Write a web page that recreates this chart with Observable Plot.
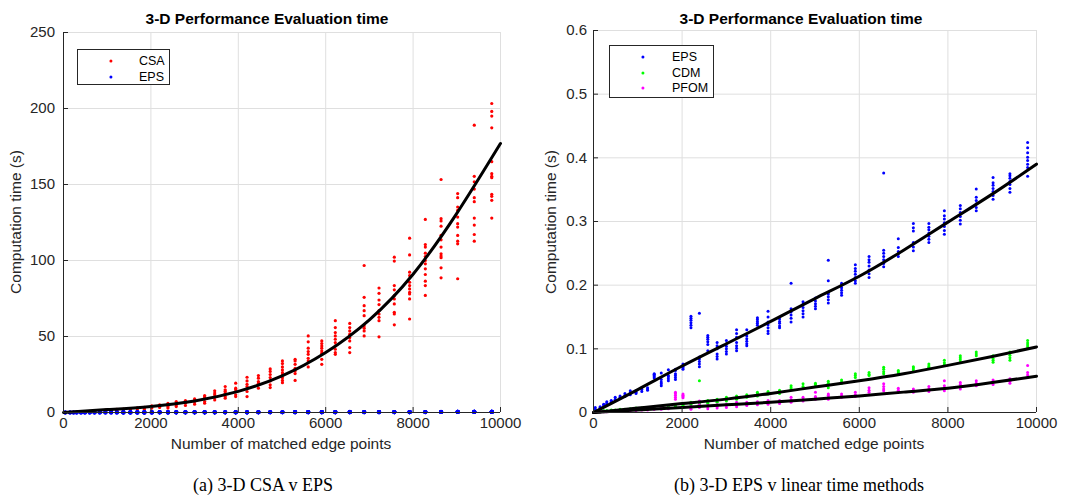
<!DOCTYPE html>
<html><head><meta charset="utf-8">
<script src="https://cdn.jsdelivr.net/npm/d3@7"></script>
<script src="https://cdn.jsdelivr.net/npm/@observablehq/plot@0.6"></script>
<style>
body{margin:0;background:#fff;width:1075px;height:495px;overflow:hidden;font-family:"Liberation Sans",Arial,sans-serif;}
#wrap{display:flex;}
.panel{position:relative;height:495px;}
.title{position:absolute;top:10px;font-weight:bold;font-size:15.5px;line-height:18px;text-align:center;color:#000;white-space:nowrap;}
.caption{position:absolute;top:474px;font-family:"Liberation Serif","Times New Roman",serif;font-size:18px;line-height:22px;text-align:center;color:#000;white-space:nowrap;}
.alab{position:absolute;font-size:15.5px;line-height:18px;color:#262626;white-space:nowrap;transform:translate(-50%,-50%);}
.ylab{transform:translate(-50%,-50%) rotate(-90deg);}
.legend{position:absolute;background:#fff;border:1.3px solid #262626;font-size:12.5px;color:#000;box-sizing:border-box;}
.legend .dot{position:absolute;width:3.2px;height:3.2px;border-radius:50%;transform:translate(-50%,-50%);}
.legend .lab{position:absolute;line-height:14px;transform:translateY(-50%);}
svg{display:block;}
</style></head><body>
<div id="wrap"><div class="panel" id="pa" style="width:537px"></div><div class="panel" id="pb" style="width:538px"></div></div>
<script>
// ---- data ----
const xs = [40,150,230,300,400,490,600,710,830,960,1090,1220,1370,1530,1690,1850,2020,2200,2390,2580,2790,3000,3230,3460,3700,3940,4200,4460,4730,5010,5300,5600,5910,6220,6550,6880,7220,7570,7920,8280,8640,9020,9400,9800];

const csaTimes = [
 [0.0,0.0],[0.1,0.1],[0.1,0.2],[0.2,0.3],[0.3,0.4],[0.4,0.6],[0.5,0.8],[0.7,1.0],[0.9,1.2],[1.1,1.5],
 [1.3,1.7],[1.5,2.0],[1.7,2.3],[2.0,2.6],[2.3,3.0],[2.0,2.9,3.4],[2.9,3.9,4.3],[3.3,4.6,5.0],[2.9,3.9,5.5,6.0],[3.9,5.0,6.2,7.2],
 [4.6,6.1,7.0,7.9],[5.5,7.2,8.2,9.0],[6.1,7.2,9.4,10.4,11.2],[8.3,9.9,11.6,12.8,14.3],[9.4,10.5,12.7,14.0,14.9,17.1],
 [10.5,11.6,13.8,15.2,16.0,19.3],[10.5,13.8,17.1,18.6,20.8,23.2],[16.0,18.2,19.3,20.4,22.6,24.3],
 [16.4,18.2,20.8,23.0,25.0,27.0,28.7],[19.6,21.1,22.9,24.7,26.2,28.0,30.0,32.2,33.9],[21.1,25.6,27.3,29.1,31.7,33.9,35.0],
 [30.0,33.9,35.7,38.3,40.1,42.3,46.5,50.4],[31.7,35.0,39.0,40.5,42.3,43.8,45.4,47.1],
 [38.3,39.4,41.6,43.8,46.0,48.2,50.4,52.6,55.9,60.4],[39.4,42.7,47.1,49.3,51.5,53.7,55.9,58.6],
 [50.4,53.7,55.5,57.0,63.7,67.0,70.3,75.8,96.7],[49.8,60.4,62.6,64.8,67.0,71.0,74.0,78.4,81.9],
 [57.7,64.8,65.9,71.4,74.7,76.9,80.7,83.5,99.6,102.2],[61.5,74.7,78.0,79.1,81.3,83.5,85.7,90.1,92.3,103.7,114.7],
 [77.0,83.5,86.4,90.8,94.5,97.8,100.0,102.6,104.8,108.8,110.5,127.0],[88.6,95.2,101.8,102.9,104.4,108.8,113.6,116.6,122.6,126.0,127.5,153.3],
 [88.0,111.0,112.7,116.5,122.0,124.2,128.6,133.0,135.2,141.3,144.0],[112.7,117.1,123.3,127.9,138.7,141.3,147.0,151.8,155.4,189.0],
 [127.9,139.6,142.2,143.6,154.5,155.4,157.1,165.0,187.3,195.0,198.1,203.3]
];

const epsTimes = [
 [0.003,0.005,0.008],[0.006,0.008,0.009],[0.010,0.012,0.013],[0.013,0.015,0.017],[0.016,0.018,0.019],[0.019,0.021,0.024],
 [0.022,0.024,0.026],[0.025,0.027,0.030],[0.028,0.031,0.034],[0.030,0.032,0.034],[0.033,0.036,0.039],[0.035,0.037,0.039],
 [0.054,0.056,0.058,0.060,0.061],[0.042,0.045,0.048,0.052,0.062],[0.050,0.053,0.056,0.058,0.067],[0.052,0.055,0.058,0.061,0.066,0.068],
 [0.068,0.070,0.072,0.074,0.076],[0.133,0.137,0.141,0.145,0.148,0.151],[0.072,0.076,0.080,0.084,0.087,0.156],
 [0.097,0.107,0.111,0.115,0.118,0.121],[0.084,0.088,0.092,0.100,0.105,0.110],[0.092,0.096,0.100,0.104,0.108,0.113],
 [0.097,0.101,0.105,0.110,0.118,0.124,0.130],[0.105,0.108,0.112,0.116,0.120,0.130],[0.137,0.140,0.143,0.146,0.149],
 [0.124,0.128,0.133,0.138,0.142,0.150,0.159],[0.133,0.136,0.140,0.143,0.147],[0.142,0.148,0.153,0.158,0.163,0.203],
 [0.150,0.155,0.160,0.165,0.170,0.174],[0.163,0.167,0.171,0.175,0.180],[0.172,0.177,0.182,0.186,0.189,0.207,0.239],
 [0.184,0.188,0.192,0.196,0.200,0.203],[0.203,0.207,0.212,0.217,0.222,0.226,0.232],[0.212,0.218,0.224,0.230,0.236,0.240,0.245],
 [0.229,0.234,0.240,0.245,0.250,0.255,0.376],[0.245,0.249,0.253,0.259,0.273],[0.254,0.260,0.267,0.285,0.290,0.297],
 [0.267,0.272,0.277,0.282,0.287,0.291,0.297],[0.280,0.286,0.292,0.298,0.304,0.309,0.317],[0.296,0.302,0.308,0.314,0.320,0.325],
 [0.317,0.322,0.328,0.333,0.338,0.351],[0.335,0.341,0.347,0.352,0.357,0.361,0.369],[0.346,0.352,0.358,0.363,0.368,0.372,0.375],
 [0.371,0.385,0.390,0.396,0.401,0.408,0.416,0.424]
];

const cdmTimes = [
 [0.001,0.002],[0.001,0.002],[0.002,0.003],[0.002,0.003],[0.003,0.004],[0.003,0.004],[0.004,0.005],[0.004,0.005],[0.005,0.006],[0.005,0.007],
 [0.006,0.007],[0.007,0.008],[0.007,0.009],[0.008,0.010],[0.009,0.011],[0.010,0.012],[0.011,0.013],[0.012,0.014,0.016],[0.013,0.015,0.017,0.050],
 [0.014,0.016,0.019],[0.016,0.018,0.021],[0.018,0.021,0.024],[0.021,0.024,0.026],[0.024,0.026,0.028],[0.026,0.029,0.032],[0.029,0.031,0.033],
 [0.030,0.032,0.035],[0.036,0.039,0.042],[0.038,0.041,0.045],[0.041,0.044,0.046],[0.039,0.043,0.046,0.049],[0.046,0.048,0.051],
 [0.055,0.058,0.061],[0.058,0.060,0.063],[0.061,0.064,0.068,0.071],[0.062,0.064,0.066],[0.067,0.070,0.072],[0.071,0.073,0.076],
 [0.075,0.078,0.082],[0.079,0.083,0.086,0.089],[0.089,0.092,0.095],[0.079,0.082,0.085,0.089],[0.082,0.086,0.090,0.095],[0.103,0.106,0.109,0.113]
];

const pfomTimes = [
 [0.000,0.001],[0.001,0.001],[0.001,0.002],[0.001,0.002],[0.002,0.002],[0.002,0.003],[0.002,0.003],[0.003,0.004],[0.003,0.004],[0.003,0.005],
 [0.004,0.005],[0.004,0.006],[0.005,0.006],[0.005,0.007],[0.006,0.007],[0.021,0.024,0.027,0.030,0.032],[0.023,0.025,0.027,0.029],
 [0.005,0.007,0.009],[0.008,0.012,0.018],[0.006,0.009,0.011],[0.007,0.010,0.012],[0.008,0.011,0.013],[0.009,0.012,0.016],[0.011,0.013,0.016],
 [0.012,0.015,0.017],[0.013,0.016,0.019],[0.014,0.017,0.019],[0.016,0.020,0.024],[0.018,0.021,0.024],[0.021,0.023,0.025,0.032],
 [0.021,0.024,0.027,0.029],[0.024,0.026,0.029],[0.025,0.028,0.032],[0.032,0.035,0.039],[0.034,0.037,0.041,0.045],[0.033,0.035,0.038],
 [0.032,0.034,0.037],[0.033,0.037,0.041],[0.034,0.038,0.042,0.050],[0.037,0.041,0.044,0.047],[0.042,0.046,0.050],[0.044,0.048,0.051],
 [0.046,0.049,0.053],[0.055,0.059,0.063,0.074]
];

// fitted curves at every 1000 points
const fitX   = [0,1000,2000,3000,4000,5000,6000,7000,8000,9000,10000];
const csaFit = [0,1.9,4.0,7.6,13.9,24.1,39.5,61.0,91.0,131.0,177.0];
const epsFit = [0,0.036,0.073,0.108,0.143,0.179,0.214,0.255,0.299,0.343,0.390];
const cdmFit = [0,0.007,0.014,0.021,0.030,0.040,0.050,0.061,0.074,0.088,0.103];
const pfomFit= [0,0.004,0.008,0.012,0.016,0.021,0.026,0.032,0.038,0.047,0.057];

const xTicks  = [0,2000,4000,6000,8000,10000];
const yTicksA = [0,50,100,150,200,250];
const yTicksB = [0,0.1,0.2,0.3,0.4,0.5,0.6];

const titleText = "3-D Performance Evaluation time";
const xLabel = "Number of matched edge points";
const yLabel = "Computation time (s)";
const captionA = "(a) 3-D CSA v EPS";
const captionB = "(b) 3-D EPS v linear time methods";
const legendA = [["CSA","#ff0000"],["EPS","#0000ff"]];
const legendB = [["EPS","#0000ff"],["CDM","#00ff00"],["PFOM","#ff00ff"]];

// ---- helpers ----
const pts = (vals) => xs.flatMap((x,i)=>vals[i].map(t=>({x,t})));
const fitPts = (vals) => fitX.map((x,i)=>({x,t:vals[i]}));
const GRID = "#dfdfdf", AX = "#262626";
const font = "Liberation Sans, Arial, sans-serif";

function chart({width, ml, mr, mt, yDomain, yTicks, yFmt, series, fits, ypad}) {
  return Plot.plot({
    width, height:460, marginLeft:ml, marginRight:mr, marginTop:mt, marginBottom:48,
    style:{fontFamily:font, fontSize:"15px", background:"#fff", overflow:"visible"},
    x:{domain:[0,10000]}, y:{domain:yDomain},
    marks:[
      Plot.gridX(xTicks,{stroke:GRID, strokeOpacity:1}),
      Plot.gridY(yTicks,{stroke:GRID, strokeOpacity:1}),
      ...series.map(([vals,color,r]) => Plot.dot(pts(vals),{x:"x",y:"t",r,fill:color,stroke:null})),
      ...fits.map(vals => Plot.line(fitPts(vals),{x:"x",y:"t",stroke:"#000",strokeWidth:3,curve:"natural"})),
      Plot.ruleX([0],{stroke:AX,strokeWidth:1}),
      Plot.ruleY([0],{stroke:AX,strokeWidth:1}),
      Plot.axisX(xTicks,{tickFormat:d=>String(d), tickSize:-5, tickPadding:10, color:AX, label:null}),
      Plot.axisY(yTicks,{tickFormat:yFmt, tickSize:-5, tickPadding:ypad, color:AX, label:null})
    ]
  });
}

function panel(id, svg, opts) {
  const p = document.getElementById(id);
  p.appendChild(svg);
  const t = document.createElement("div"); t.className="title"; t.textContent=titleText;
  t.style.left="0px"; t.style.width=opts.titleW+"px"; p.appendChild(t);
  const xl = document.createElement("div"); xl.className="alab"; xl.textContent=xLabel;
  xl.style.left=opts.xlx+"px"; xl.style.top="444px"; p.appendChild(xl);
  const yl = document.createElement("div"); yl.className="alab ylab"; yl.textContent=yLabel;
  yl.style.left=opts.ylx+"px"; yl.style.top="222px"; p.appendChild(yl);
  const c = document.createElement("div"); c.className="caption"; c.textContent=opts.caption;
  c.style.left="0px"; c.style.width=opts.capW+"px"; p.appendChild(c);
  const lg = document.createElement("div"); lg.className="legend";
  Object.assign(lg.style,{left:opts.lg[0]+"px",top:opts.lg[1]+"px",width:opts.lg[2]+"px",height:opts.lg[3]+"px"});
  opts.legend.forEach(([name,color],i)=>{
    const cy = 11 + i*15.5;
    const d = document.createElement("div"); d.className="dot"; d.style.background=color;
    d.style.left="33px"; d.style.top=cy+"px"; lg.appendChild(d);
    const s = document.createElement("div"); s.className="lab"; s.textContent=name;
    s.style.left=opts.lgText+"px"; s.style.top=cy+"px"; lg.appendChild(s);
  });
  p.appendChild(lg);
}

const svgA = chart({width:537, ml:63, mr:37, mt:32, yDomain:[0,250], yTicks:yTicksA, yFmt:d=>String(d),
  series:[[csaTimes,"#ff0000",1.6],[epsTimes,"#0000ff",2.1]], fits:[csaFit], ypad:13.5});
panel("pa", svgA, {titleW:534, xlx:281, ylx:16, caption:captionA, capW:526, lg:[77,49,93,36], lgText:61, legend:legendA});

const svgB = chart({width:538, ml:56, mr:39, mt:30, yDomain:[0,0.6], yTicks:yTicksB, yFmt:d=>String(+d.toFixed(1)),
  series:[[epsTimes,"#0000ff",1.5],[cdmTimes,"#00ff00",1.5],[pfomTimes,"#ff00ff",1.5]], fits:[epsFit,cdmFit,pfomFit], ypad:11.5});
panel("pb", svgB, {titleW:528, xlx:277, ylx:14, caption:captionB, capW:524, lg:[72,45,105,53], lgText:62, legend:legendB});
</script>
</body></html>
